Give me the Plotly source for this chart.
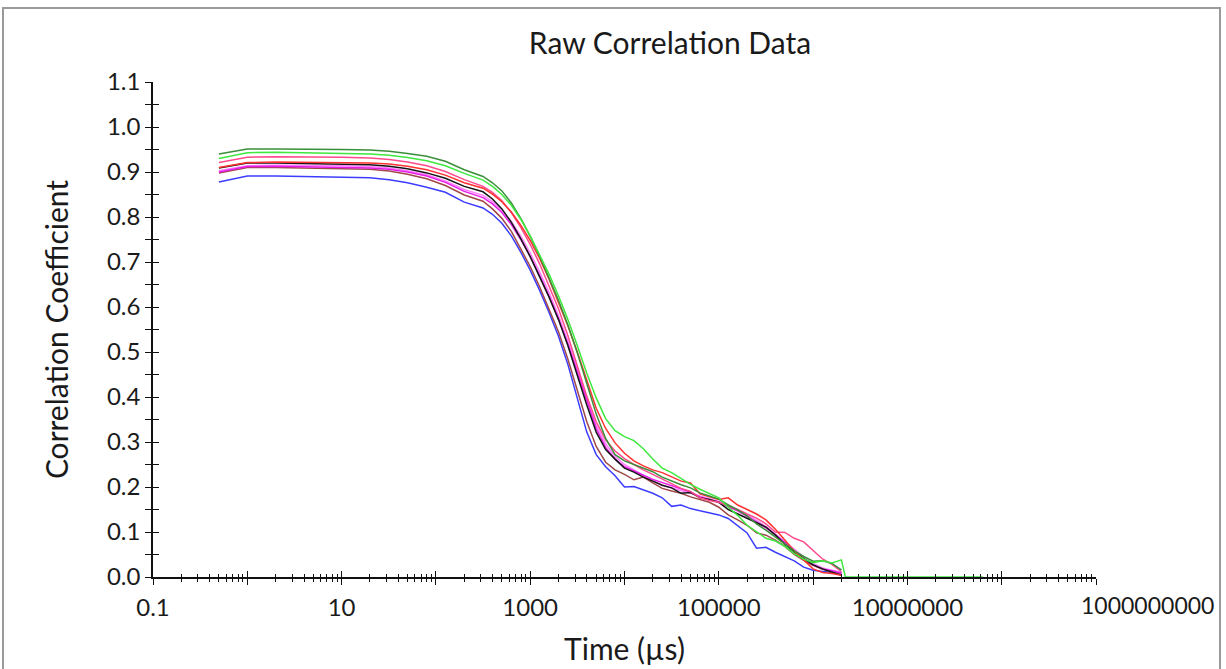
import plotly.graph_objects as go

# Correlator delay times (µs)
times = [0.5, 1, 2, 5, 10, 20, 32, 50, 80, 126, 200, 316, 398, 501, 631, 794,
         1000, 1259, 1585, 1995, 2512, 3162, 3981, 5012, 6310, 7943,
         10000, 12589, 15849, 19953, 25119, 31623, 39811, 50119, 63096, 79433,
         100000, 125893, 158489, 199526, 251189, 316228, 398107, 501187, 630957, 794328,
         1000000, 1258925, 1584893, 1995262]

dark_green = [0.940, 0.951, 0.951, 0.951, 0.950, 0.949, 0.946, 0.941, 0.935, 0.924, 0.905,
              0.890, 0.876, 0.858, 0.831, 0.797, 0.757, 0.713, 0.666, 0.615, 0.560, 0.498,
              0.430, 0.362, 0.308, 0.272, 0.258, 0.250, 0.243, 0.234, 0.222, 0.213, 0.205,
              0.198, 0.187, 0.180, 0.173, 0.160, 0.149, 0.136, 0.118, 0.104, 0.088, 0.072,
              0.058, 0.046, 0.035, 0.036, 0.030, 0.016]
green = [0.930, 0.943, 0.944, 0.943, 0.942, 0.940, 0.937, 0.932, 0.925, 0.914, 0.897,
         0.882, 0.868, 0.850, 0.826, 0.795, 0.758, 0.717, 0.673, 0.625, 0.572, 0.514,
         0.453, 0.398, 0.352, 0.325, 0.312, 0.303, 0.285, 0.262, 0.242, 0.232, 0.218,
         0.206, 0.195, 0.186, 0.176, 0.155, 0.137, 0.115, 0.100, 0.086, 0.080, 0.068,
         0.052, 0.040, 0.032, 0.036, 0.031, 0.038]
green_tail_times = [2200000, 63000000]
green_tail = [0.0, 0.0]
pink = [0.921, 0.933, 0.934, 0.934, 0.933, 0.931, 0.928, 0.922, 0.914, 0.901, 0.883,
        0.868, 0.855, 0.836, 0.810, 0.777, 0.739, 0.696, 0.648, 0.596, 0.536, 0.470,
        0.402, 0.345, 0.305, 0.280, 0.263, 0.250, 0.238, 0.228, 0.218, 0.207, 0.197,
        0.190, 0.176, 0.170, 0.166, 0.158, 0.150, 0.140, 0.131, 0.118, 0.100, 0.099,
        0.086, 0.078, 0.060, 0.040, 0.028, 0.012]
red = [0.910, 0.921, 0.922, 0.921, 0.921, 0.920, 0.918, 0.913, 0.905, 0.893, 0.876,
       0.864, 0.851, 0.834, 0.811, 0.782, 0.748, 0.708, 0.662, 0.612, 0.558, 0.500,
       0.436, 0.375, 0.330, 0.298, 0.275, 0.258, 0.247, 0.238, 0.232, 0.222, 0.213,
       0.209, 0.185, 0.178, 0.172, 0.176, 0.160, 0.150, 0.140, 0.127, 0.106, 0.082,
       0.058, 0.038, 0.018, 0.010, 0.008, 0.004]
black = [0.909, 0.920, 0.920, 0.919, 0.918, 0.916, 0.913, 0.907, 0.898, 0.886, 0.868,
         0.856, 0.840, 0.818, 0.788, 0.752, 0.712, 0.668, 0.622, 0.572, 0.514, 0.448,
         0.382, 0.322, 0.283, 0.262, 0.242, 0.233, 0.222, 0.213, 0.204, 0.198, 0.186,
         0.188, 0.176, 0.172, 0.166, 0.150, 0.140, 0.131, 0.120, 0.111, 0.093, 0.073,
         0.056, 0.042, 0.027, 0.018, 0.011, 0.004]
magenta = [0.900, 0.912, 0.913, 0.912, 0.911, 0.909, 0.906, 0.900, 0.891, 0.877, 0.857,
           0.843, 0.829, 0.810, 0.783, 0.750, 0.712, 0.670, 0.624, 0.574, 0.518, 0.455,
           0.388, 0.330, 0.288, 0.262, 0.245, 0.235, 0.226, 0.217, 0.210, 0.204, 0.196,
           0.189, 0.178, 0.172, 0.166, 0.156, 0.147, 0.135, 0.122, 0.109, 0.094, 0.076,
           0.056, 0.040, 0.027, 0.018, 0.014, 0.009]
violet = [0.903, 0.914, 0.915, 0.915, 0.914, 0.912, 0.909, 0.903, 0.894, 0.880, 0.861,
          0.848, 0.834, 0.815, 0.790, 0.758, 0.720, 0.678, 0.632, 0.581, 0.524, 0.462,
          0.396, 0.338, 0.296, 0.268, 0.250, 0.238, 0.226, 0.214, 0.204, 0.198, 0.192,
          0.186, 0.181, 0.175, 0.168, 0.160, 0.150, 0.138, 0.126, 0.112, 0.096, 0.080,
          0.062, 0.045, 0.030, 0.020, 0.015, 0.010]
brown = [0.898, 0.910, 0.910, 0.909, 0.908, 0.906, 0.902, 0.895, 0.885, 0.870, 0.849,
         0.835, 0.818, 0.797, 0.768, 0.730, 0.690, 0.645, 0.597, 0.545, 0.484, 0.415,
         0.345, 0.290, 0.255, 0.238, 0.228, 0.216, 0.222, 0.209, 0.197, 0.191, 0.186,
         0.178, 0.172, 0.166, 0.155, 0.138, 0.127, 0.115, 0.098, 0.093, 0.082, 0.068,
         0.050, 0.037, 0.026, 0.017, 0.011, 0.009]
blue = [0.878, 0.891, 0.891, 0.890, 0.889, 0.887, 0.883, 0.876, 0.866, 0.855, 0.833,
        0.820, 0.806, 0.786, 0.758, 0.722, 0.682, 0.637, 0.588, 0.535, 0.472, 0.398,
        0.322, 0.272, 0.245, 0.225, 0.200, 0.201, 0.194, 0.186, 0.176, 0.157, 0.160,
        0.152, 0.147, 0.142, 0.138, 0.130, 0.114, 0.098, 0.064, 0.066, 0.055, 0.045,
        0.036, 0.022, 0.015, 0.012, 0.010, 0.009]

series = [
    ("Run 1", blue, "#3c3cff"),
    ("Run 2", brown, "#a04848"),
    ("Run 3", violet, "#ff80ff"),
    ("Run 4", magenta, "#e81ce8"),
    ("Run 5", black, "#151515"),
    ("Run 6", pink, "#ff4a8c"),
    ("Run 7", red, "#ff3030"),
    ("Run 8", dark_green, "#3a8f3a"),
    ("Run 9", green, "#3ee83e"),
]

x_tickvals = [0.1, 1, 10, 100, 1000, 1e4, 1e5, 1e6, 1e7, 1e8, 1e9]
x_ticktext = ["0.1", "", "10", "", "1000", "", "100000", "", "10000000", "", ""]
last_label = "1000000000"

FONT = "Lato, 'Open Sans', sans-serif"
TICK_SIZE = 24
TITLE_SIZE = 30

fig = go.Figure()
for name, vals, col in series:
    xs = list(times)
    ys = list(vals)
    if name == "Run 9":
        xs += green_tail_times
        ys += green_tail
    fig.add_trace(go.Scatter(x=xs, y=ys, mode="lines", name=name,
                             line=dict(color=col, width=1.5), showlegend=False))

# invisible trace on secondary axes (used for inward tick marks)
fig.add_trace(go.Scatter(x=[1], y=[0], xaxis="x2", yaxis="y2", mode="markers",
                         marker=dict(opacity=0), showlegend=False, hoverinfo="skip"))

L, R, T, B = 153, 130, 82, 92
W, H = 1226, 669
pw, ph = W - L - R, H - T - B

fig.update_layout(
    width=W, height=H,
    margin=dict(l=L, r=R, t=T, b=B, autoexpand=False),
    paper_bgcolor="white", plot_bgcolor="white",
    font=dict(family=FONT, color="#1a1a1a"),
    title=dict(text="Raw Correlation Data", x=(670 - L) / pw, xref="paper",
               xanchor="center", y=1 - 43 / H, yanchor="middle",
               font=dict(size=30, family=FONT, color="#1a1a1a")),
    xaxis=dict(type="log", range=[-1, 9], showgrid=False, zeroline=False,
               automargin=False,
               showline=True, linecolor="#111", linewidth=1.5,
               tickvals=x_tickvals, ticktext=x_ticktext,
               ticks="outside", ticklen=6, tickwidth=1.3, tickcolor="#111",
               minor=dict(ticks="outside", ticklen=3, tickwidth=1, tickcolor="#111",
                          dtick="D1", showgrid=False),
               tickfont=dict(size=TICK_SIZE, family=FONT), ticklabelstandoff=2,
               title=dict(text="Time (µs)", font=dict(size=TITLE_SIZE, family=FONT),
                          standoff=19)),
    yaxis=dict(range=[0, 1.1], dtick=0.1, tickformat=".1f", showgrid=False,
               zeroline=False, showline=True, linecolor="#111", linewidth=1.5,
               automargin=False,
               ticks="outside", ticklen=6, tickwidth=1.3, tickcolor="#111",
               minor=dict(ticks="outside", ticklen=6, tickwidth=1, tickcolor="#111",
                          dtick=0.05, showgrid=False),
               tickfont=dict(size=TICK_SIZE, family=FONT),
               title=dict(text="Correlation Coefficient",
                          font=dict(size=TITLE_SIZE, family=FONT), standoff=29)),
    xaxis2=dict(type="log", range=[-1, 9], overlaying="x", showgrid=False, zeroline=False,
                automargin=False,
                tickvals=x_tickvals, showticklabels=False,
                ticks="inside", ticklen=6, tickwidth=1.3, tickcolor="#111",
                minor=dict(ticks="inside", ticklen=3, tickwidth=1, tickcolor="#111",
                           dtick="D1", showgrid=False)),
    yaxis2=dict(range=[0, 1.1], overlaying="y", showgrid=False, zeroline=False,
                automargin=False,
                dtick=0.1, showticklabels=False,
                ticks="inside", ticklen=6, tickwidth=1.3, tickcolor="#111",
                minor=dict(ticks="inside", ticklen=6, tickwidth=1, tickcolor="#111",
                           dtick=0.05, showgrid=False)),
)

fig.add_annotation(x=9, y=0, xref="x", yref="y", text=last_label, showarrow=False,
                   xanchor="right", yanchor="middle", xshift=120, yshift=-28,
                   font=dict(size=TICK_SIZE - 1, family=FONT, color="#1a1a1a"))

# outer frame
fig.add_shape(type="rect", xref="paper", yref="paper",
              x0=(3 - L) / pw, x1=(1220 - L) / pw,
              y0=(H - T - 680) / ph, y1=(H - B - 8) / ph,
              line=dict(color="#9a9a9a", width=2), fillcolor="rgba(0,0,0,0)", layer="below")

fig.write_html("out.html")
